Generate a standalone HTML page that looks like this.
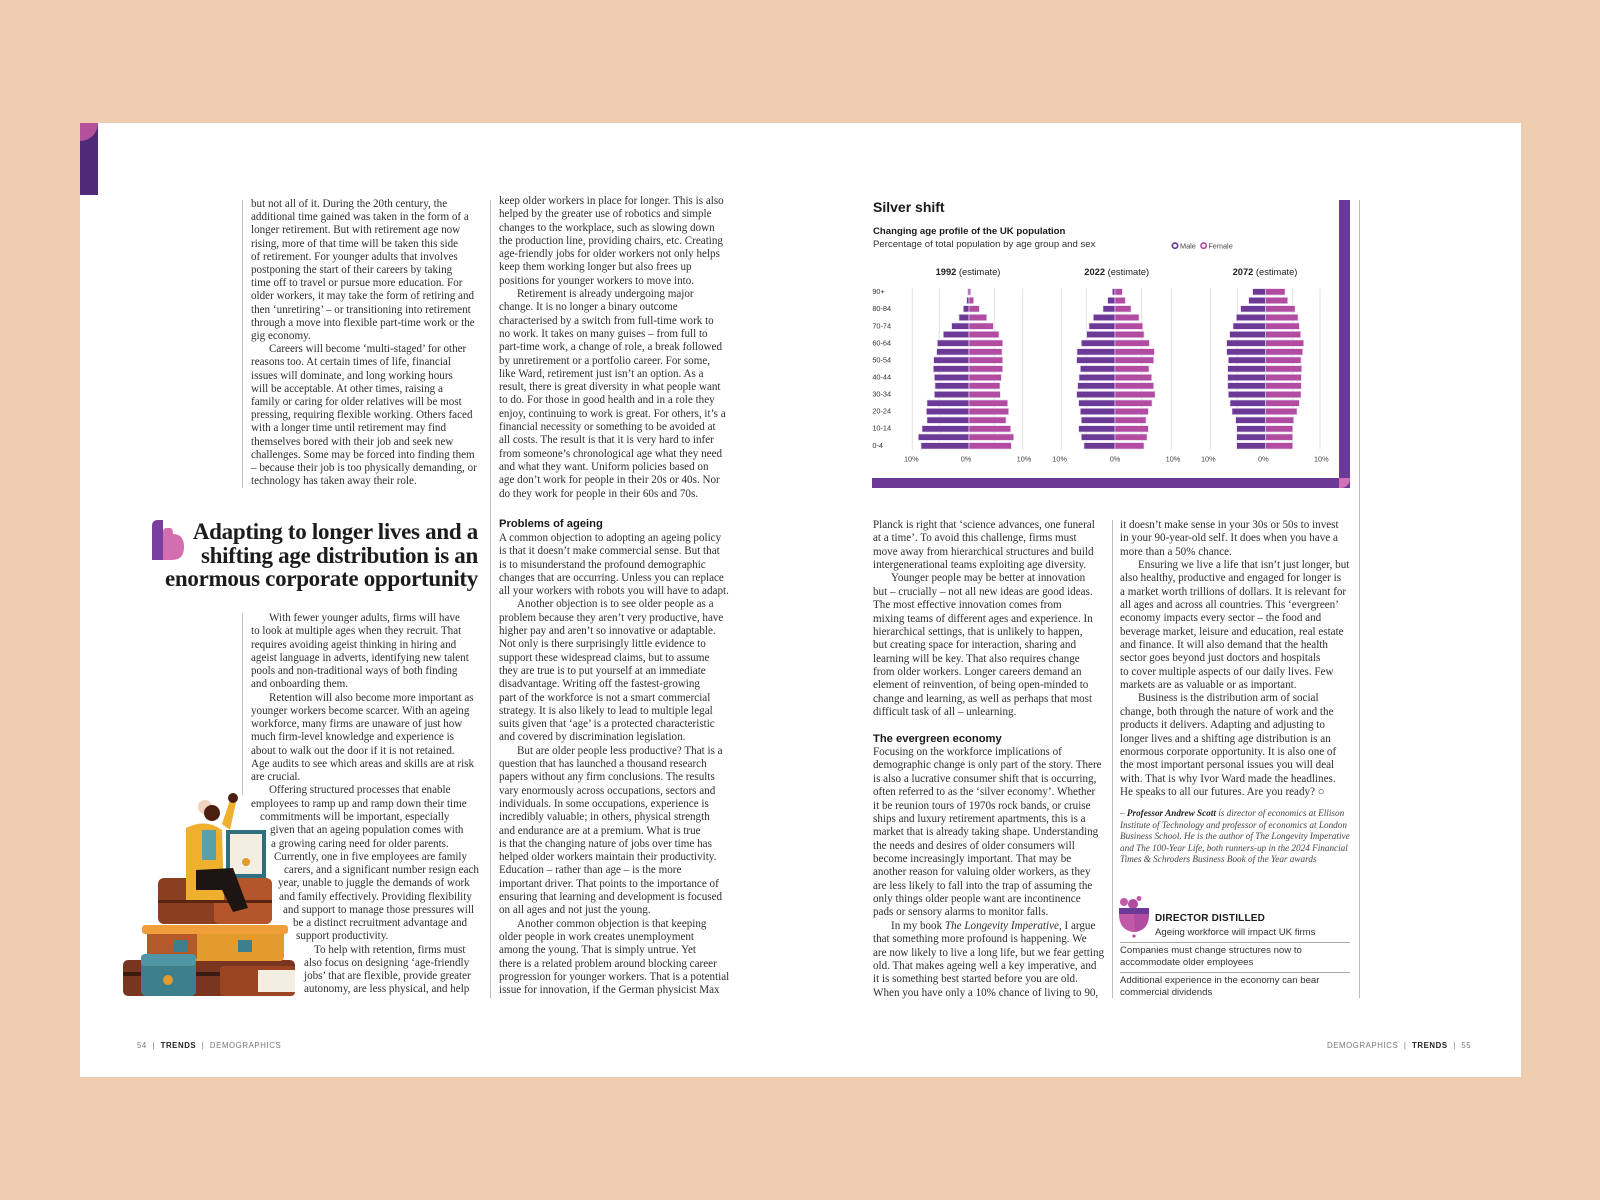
<!DOCTYPE html>
<html><head><meta charset="utf-8">
<style>
*{margin:0;padding:0;box-sizing:border-box}
body{width:1600px;height:1200px;background:#efcdb0;position:relative;overflow:hidden;font-family:"Liberation Serif",serif;color:#333}
.page{position:absolute;left:80px;top:123px;width:1441px;height:954px;background:#fff}
.abs{position:absolute}
.txt{position:absolute;font-family:"Liberation Serif",serif;font-size:11.1px;white-space:nowrap;color:#2e2e2e}
.i{padding-left:18px}
.rule{position:absolute;width:1px;background:#bdbdbd}
.hd{font-family:"Liberation Sans",sans-serif;font-weight:bold;font-size:11.2px;color:#1a1a1a}
.sans{font-family:"Liberation Sans",sans-serif}
.foot{position:absolute;font-family:"Liberation Sans",sans-serif;font-size:7.8px;letter-spacing:0.6px;color:#777;top:1041px}
.foot b{color:#222}
</style></head><body>
<div class="page"></div>
<div class="abs" style="left:80px;top:123px;width:18px;height:72px;background:#4f2a78"></div>
<div class="abs" style="left:80px;top:123px;width:18px;height:18px;background:#b5519b;border-bottom-right-radius:18px"></div>

<div class="rule" style="left:242px;top:200px;height:288px"></div>
<div class="rule" style="left:242px;top:613px;height:182px"></div>
<div class="rule" style="left:490px;top:200px;height:798px"></div>
<div class="rule" style="left:1112px;top:520px;height:478px"></div>
<div class="rule" style="left:1359px;top:200px;height:798px"></div>

<div class="txt" style="left:251px;top:198px;line-height:13.2px">
<div>but not all of it. During the 20th century, the</div>
<div>additional time gained was taken in the form of a</div>
<div>longer retirement. But with retirement age now</div>
<div>rising, more of that time will be taken this side</div>
<div>of retirement. For younger adults that involves</div>
<div>postponing the start of their careers by taking</div>
<div>time off to travel or pursue more education. For</div>
<div>older workers, it may take the form of retiring and</div>
<div>then ‘unretiring’ – or transitioning into retirement</div>
<div>through a move into flexible part-time work or the</div>
<div>gig economy.</div>
<div class="i">Careers will become ‘multi-staged’ for other</div>
<div>reasons too. At certain times of life, financial</div>
<div>issues will dominate, and long working hours</div>
<div>will be acceptable. At other times, raising a</div>
<div>family or caring for older relatives will be most</div>
<div>pressing, requiring flexible working. Others faced</div>
<div>with a longer time until retirement may find</div>
<div>themselves bored with their job and seek new</div>
<div>challenges. Some may be forced into finding them</div>
<div>– because their job is too physically demanding, or</div>
<div>technology has taken away their role.</div>
</div>

<svg class="abs" style="left:150px;top:520px" width="38" height="42" viewBox="0 0 38 42">
<path d="M2 6 Q2 0 8 0 L13 0 L13 40 L2 40 Z" fill="#7a3e9e"/>
<path d="M13 12 Q13 8 17 8 L20 8 Q23 8 23 14 Q34 14 34 27 Q34 40 22 40 L13 40 Z" fill="#d167ad" opacity="0.95"/>
</svg>
<div class="abs" style="left:120px;top:520px;width:358px;text-align:right;font-family:'Liberation Serif',serif;font-weight:bold;font-size:23px;line-height:23.5px;letter-spacing:-0.3px;color:#1c1c1c;white-space:nowrap">
<div>Adapting to longer lives and a</div>
<div>shifting age distribution is an</div>
<div>enormous corporate opportunity</div>
</div>

<div class="txt" style="left:251px;top:612px;line-height:13.27px">
<div class="i">With fewer younger adults, firms will have</div>
<div>to look at multiple ages when they recruit. That</div>
<div>requires avoiding ageist thinking in hiring and</div>
<div>ageist language in adverts, identifying new talent</div>
<div>pools and non-traditional ways of both finding</div>
<div>and onboarding them.</div>
<div class="i">Retention will also become more important as</div>
<div>younger workers become scarcer. With an ageing</div>
<div>workforce, many firms are unaware of just how</div>
<div>much firm-level knowledge and experience is</div>
<div>about to walk out the door if it is not retained.</div>
<div>Age audits to see which areas and skills are at risk</div>
<div>are crucial.</div>
<div style="padding-left:18px">Offering structured processes that enable</div>
<div>employees to ramp up and ramp down their time</div>
<div style="padding-left:9px">commitments will be important, especially</div>
<div style="padding-left:19px">given that an ageing population comes with</div>
<div style="padding-left:20px">a growing caring need for older parents.</div>
<div style="padding-left:23px">Currently, one in five employees are family</div>
<div style="padding-left:33px">carers, and a significant number resign each</div>
<div style="padding-left:27px">year, unable to juggle the demands of work</div>
<div style="padding-left:28px">and family effectively. Providing flexibility</div>
<div style="padding-left:32px">and support to manage those pressures will</div>
<div style="padding-left:42px">be a distinct recruitment advantage and</div>
<div style="padding-left:45px">support productivity.</div>
<div style="padding-left:63px">To help with retention, firms must</div>
<div style="padding-left:53px">also focus on designing ‘age-friendly</div>
<div style="padding-left:53px">jobs’ that are flexible, provide greater</div>
<div style="padding-left:53px">autonomy, are less physical, and help</div>
</div>

<svg class="abs" style="left:118px;top:790px" width="185" height="210" viewBox="0 0 185 210">
<rect x="5" y="170" width="172" height="36" rx="5" fill="#7a3520"/>
<rect x="5" y="182" width="172" height="4" fill="#3b1a10"/>
<rect x="29" y="135" width="137" height="36" rx="4" fill="#e39b2f"/>
<rect x="29" y="135" width="50" height="36" rx="4" fill="#b45a2a"/>
<rect x="24" y="135" width="146" height="9" rx="3" fill="#ef9e3a"/>
<rect x="56" y="150" width="14" height="12" fill="#3e7f8c"/>
<rect x="120" y="150" width="14" height="12" fill="#3e7f8c"/>
<rect x="40" y="88" width="114" height="46" rx="6" fill="#8a3e22"/>
<rect x="96" y="88" width="58" height="46" rx="6" fill="#b5562a"/>
<rect x="40" y="110" width="114" height="3" fill="#5a2412"/>
<rect x="108" y="40" width="40" height="48" fill="#2f6e7c"/>
<rect x="112" y="44" width="32" height="40" fill="#f4ede2"/>
<circle cx="128" cy="72" r="4" fill="#e39b2f"/>
<rect x="23" y="164" width="55" height="42" rx="5" fill="#3e7f8c"/>
<rect x="23" y="164" width="55" height="12" rx="4" fill="#4f97a5"/>
<circle cx="50" cy="190" r="5" fill="#e39b2f"/>
<rect x="102" y="176" width="75" height="30" rx="4" fill="#9a4422"/>
<rect x="140" y="180" width="37" height="22" fill="#f4ede2"/>
<circle cx="87" cy="17" r="7" fill="#f2d2c0"/>
<circle cx="94" cy="23" r="8" fill="#4a1f10"/>
<path d="M68 38 Q88 28 104 40 L106 110 L68 110 Z" fill="#efb02e"/>
<rect x="84" y="40" width="14" height="30" fill="#5aa0a8"/>
<path d="M78 80 L115 78 L130 118 L115 122 L104 100 L78 100 Z" fill="#1d1512"/>
<path d="M104 34 L112 10 L118 12 L112 40 Z" fill="#efb02e"/>
<circle cx="115" cy="8" r="5" fill="#4a1f10"/>
</svg>

<div class="txt" style="left:499px;top:195px;line-height:13.3px">
<div>keep older workers in place for longer. This is also</div>
<div>helped by the greater use of robotics and simple</div>
<div>changes to the workplace, such as slowing down</div>
<div>the production line, providing chairs, etc. Creating</div>
<div>age-friendly jobs for older workers not only helps</div>
<div>keep them working longer but also frees up</div>
<div>positions for younger workers to move into.</div>
<div class="i">Retirement is already undergoing major</div>
<div>change. It is no longer a binary outcome</div>
<div>characterised by a switch from full-time work to</div>
<div>no work. It takes on many guises – from full to</div>
<div>part-time work, a change of role, a break followed</div>
<div>by unretirement or a portfolio career. For some,</div>
<div>like Ward, retirement just isn’t an option. As a</div>
<div>result, there is great diversity in what people want</div>
<div>to do. For those in good health and in a role they</div>
<div>enjoy, continuing to work is great. For others, it’s a</div>
<div>financial necessity or something to be avoided at</div>
<div>all costs. The result is that it is very hard to infer</div>
<div>from someone’s chronological age what they need</div>
<div>and what they want. Uniform policies based on</div>
<div>age don’t work for people in their 20s or 40s. Nor</div>
<div>do they work for people in their 60s and 70s.</div>
</div>

<div class="abs hd" style="left:499px;top:518px">Problems of ageing</div>
<div class="txt" style="left:499px;top:532px;line-height:13.3px">
<div>A common objection to adopting an ageing policy</div>
<div>is that it doesn’t make commercial sense. But that</div>
<div>is to misunderstand the profound demographic</div>
<div>changes that are occurring. Unless you can replace</div>
<div>all your workers with robots you will have to adapt.</div>
<div class="i">Another objection is to see older people as a</div>
<div>problem because they aren’t very productive, have</div>
<div>higher pay and aren’t so innovative or adaptable.</div>
<div>Not only is there surprisingly little evidence to</div>
<div>support these widespread claims, but to assume</div>
<div>they are true is to put yourself at an immediate</div>
<div>disadvantage. Writing off the fastest-growing</div>
<div>part of the workforce is not a smart commercial</div>
<div>strategy. It is also likely to lead to multiple legal</div>
<div>suits given that ‘age’ is a protected characteristic</div>
<div>and covered by discrimination legislation.</div>
<div class="i">But are older people less productive? That is a</div>
<div>question that has launched a thousand research</div>
<div>papers without any firm conclusions. The results</div>
<div>vary enormously across occupations, sectors and</div>
<div>individuals. In some occupations, experience is</div>
<div>incredibly valuable; in others, physical strength</div>
<div>and endurance are at a premium. What is true</div>
<div>is that the changing nature of jobs over time has</div>
<div>helped older workers maintain their productivity.</div>
<div>Education – rather than age – is the more</div>
<div>important driver. That points to the importance of</div>
<div>ensuring that learning and development is focused</div>
<div>on all ages and not just the young.</div>
<div class="i">Another common objection is that keeping</div>
<div>older people in work creates unemployment</div>
<div>among the young. That is simply untrue. Yet</div>
<div>there is a related problem around blocking career</div>
<div>progression for younger workers. That is a potential</div>
<div>issue for innovation, if the German physicist Max</div>
</div>

<div class="abs sans" style="left:873px;top:199px;font-size:14px;font-weight:bold;color:#1a1a1a">Silver shift</div>
<div class="abs sans" style="left:873px;top:226px;font-size:9.6px;font-weight:bold;color:#1a1a1a">Changing age profile of the UK population</div>
<div class="abs sans" style="left:873px;top:239px;font-size:9.6px;color:#333">Percentage of total population by age group and sex</div>
<svg class="abs" style="left:850px;top:190px" width="480" height="300" viewBox="0 0 1440 900" font-family="Liberation Sans, sans-serif">
<circle cx="975" cy="167" r="8" fill="none" stroke="#6b3a96" stroke-width="5"/>
<text x="990" y="175" font-size="22" fill="#444">Male</text>
<circle cx="1061" cy="167" r="8" fill="none" stroke="#b14ca0" stroke-width="5"/>
<text x="1075" y="175" font-size="22" fill="#444">Female</text>
<g font-size="28" text-anchor="middle" fill="#222">
<text x="354" y="255"><tspan font-weight="bold">1992</tspan> (estimate)</text>
<text x="800" y="255"><tspan font-weight="bold">2022</tspan> (estimate)</text>
<text x="1245" y="255"><tspan font-weight="bold">2072</tspan> (estimate)</text>
</g>
<g stroke="#e2e2e2" stroke-width="3">
<line x1="187" y1="295" x2="187" y2="778"/><line x1="268" y1="295" x2="268" y2="778"/><line x1="433" y1="295" x2="433" y2="778"/><line x1="518" y1="295" x2="518" y2="778"/>
<line x1="634" y1="295" x2="634" y2="778"/><line x1="709" y1="295" x2="709" y2="778"/><line x1="875" y1="295" x2="875" y2="778"/><line x1="964" y1="295" x2="964" y2="778"/>
<line x1="1081" y1="295" x2="1081" y2="778"/><line x1="1162" y1="295" x2="1162" y2="778"/><line x1="1328" y1="295" x2="1328" y2="778"/><line x1="1410" y1="295" x2="1410" y2="778"/>
</g>
<g font-size="22" fill="#333">
<text x="67" y="312">90+</text><text x="67" y="363">80-84</text><text x="67" y="415">70-74</text><text x="67" y="466">60-64</text><text x="67" y="517">50-54</text><text x="67" y="568">40-44</text><text x="67" y="620">30-34</text><text x="67" y="671">20-24</text><text x="67" y="722">10-14</text><text x="67" y="774">0-4</text>
</g>
<g font-size="22" fill="#444" text-anchor="middle">
<text x="184" y="815">10%</text><text x="348" y="815">0%</text><text x="522" y="815">10%</text>
<text x="629" y="815">10%</text><text x="795" y="815">0%</text><text x="969" y="815">10%</text>
<text x="1075" y="815">10%</text><text x="1240" y="815">0%</text><text x="1414" y="815">10%</text>
</g>
<g stroke="#e6d3ee" stroke-width="2">
<g fill="#6b3a96">
<rect x="353" y="296" width="4" height="19"/><rect x="350" y="322" width="7" height="19"/><rect x="340" y="347" width="17" height="19"/><rect x="327" y="373" width="30" height="19"/><rect x="305" y="399" width="52" height="19"/><rect x="280" y="424" width="77" height="19"/><rect x="262" y="450" width="95" height="19"/><rect x="260" y="476" width="97" height="19"/><rect x="251" y="501" width="106" height="19"/><rect x="250" y="527" width="107" height="19"/><rect x="253" y="553" width="104" height="19"/><rect x="255" y="578" width="102" height="19"/><rect x="253" y="604" width="104" height="19"/><rect x="231" y="630" width="126" height="19"/><rect x="229" y="655" width="128" height="19"/><rect x="231" y="681" width="126" height="19"/><rect x="216" y="707" width="141" height="19"/><rect x="205" y="732" width="152" height="19"/><rect x="213" y="758" width="144" height="19"/>
<rect x="787" y="296" width="8" height="19"/><rect x="773" y="322" width="22" height="19"/><rect x="759" y="347" width="36" height="19"/><rect x="730" y="373" width="65" height="19"/><rect x="717" y="399" width="78" height="19"/><rect x="710" y="424" width="85" height="19"/><rect x="694" y="450" width="101" height="19"/><rect x="681" y="476" width="114" height="19"/><rect x="680" y="501" width="115" height="19"/><rect x="691" y="527" width="104" height="19"/><rect x="687" y="553" width="108" height="19"/><rect x="683" y="578" width="112" height="19"/><rect x="680" y="604" width="115" height="19"/><rect x="686" y="630" width="109" height="19"/><rect x="691" y="655" width="104" height="19"/><rect x="694" y="681" width="101" height="19"/><rect x="686" y="707" width="109" height="19"/><rect x="694" y="732" width="101" height="19"/><rect x="702" y="758" width="93" height="19"/>
<rect x="1208" y="296" width="39" height="19"/><rect x="1196" y="322" width="51" height="19"/><rect x="1172" y="347" width="75" height="19"/><rect x="1159" y="373" width="88" height="19"/><rect x="1149" y="399" width="98" height="19"/><rect x="1139" y="424" width="108" height="19"/><rect x="1130" y="450" width="117" height="19"/><rect x="1130" y="476" width="117" height="19"/><rect x="1135" y="501" width="112" height="19"/><rect x="1133" y="527" width="114" height="19"/><rect x="1133" y="553" width="114" height="19"/><rect x="1133" y="578" width="114" height="19"/><rect x="1135" y="604" width="112" height="19"/><rect x="1140" y="630" width="107" height="19"/><rect x="1146" y="655" width="101" height="19"/><rect x="1157" y="681" width="90" height="19"/><rect x="1160" y="707" width="87" height="19"/><rect x="1160" y="732" width="87" height="19"/><rect x="1160" y="758" width="87" height="19"/>
</g>
<g fill="#b14ca0">
<rect x="357" y="296" width="5" height="19"/><rect x="357" y="322" width="14" height="19"/><rect x="357" y="347" width="31" height="19"/><rect x="357" y="373" width="53" height="19"/><rect x="357" y="399" width="73" height="19"/><rect x="357" y="424" width="90" height="19"/><rect x="357" y="450" width="101" height="19"/><rect x="357" y="476" width="99" height="19"/><rect x="357" y="501" width="101" height="19"/><rect x="357" y="527" width="101" height="19"/><rect x="357" y="553" width="97" height="19"/><rect x="357" y="578" width="93" height="19"/><rect x="357" y="604" width="94" height="19"/><rect x="357" y="630" width="116" height="19"/><rect x="357" y="655" width="119" height="19"/><rect x="357" y="681" width="111" height="19"/><rect x="357" y="707" width="125" height="19"/><rect x="357" y="732" width="134" height="19"/><rect x="357" y="758" width="127" height="19"/>
<rect x="795" y="296" width="22" height="19"/><rect x="795" y="322" width="31" height="19"/><rect x="795" y="347" width="48" height="19"/><rect x="795" y="373" width="72" height="19"/><rect x="795" y="399" width="83" height="19"/><rect x="795" y="424" width="87" height="19"/><rect x="795" y="450" width="103" height="19"/><rect x="795" y="476" width="118" height="19"/><rect x="795" y="501" width="116" height="19"/><rect x="795" y="527" width="102" height="19"/><rect x="795" y="553" width="110" height="19"/><rect x="795" y="578" width="116" height="19"/><rect x="795" y="604" width="120" height="19"/><rect x="795" y="630" width="111" height="19"/><rect x="795" y="655" width="100" height="19"/><rect x="795" y="681" width="93" height="19"/><rect x="795" y="707" width="100" height="19"/><rect x="795" y="732" width="96" height="19"/><rect x="795" y="758" width="87" height="19"/>
<rect x="1247" y="296" width="58" height="19"/><rect x="1247" y="322" width="66" height="19"/><rect x="1247" y="347" width="88" height="19"/><rect x="1247" y="373" width="97" height="19"/><rect x="1247" y="399" width="101" height="19"/><rect x="1247" y="424" width="105" height="19"/><rect x="1247" y="450" width="114" height="19"/><rect x="1247" y="476" width="111" height="19"/><rect x="1247" y="501" width="106" height="19"/><rect x="1247" y="527" width="108" height="19"/><rect x="1247" y="553" width="107" height="19"/><rect x="1247" y="578" width="107" height="19"/><rect x="1247" y="604" width="106" height="19"/><rect x="1247" y="630" width="101" height="19"/><rect x="1247" y="655" width="94" height="19"/><rect x="1247" y="681" width="84" height="19"/><rect x="1247" y="707" width="81" height="19"/><rect x="1247" y="732" width="81" height="19"/><rect x="1247" y="758" width="81" height="19"/>
</g>
</g>
</svg>
<div class="abs" style="left:1339px;top:200px;width:11px;height:288px;background:#6b3a96"></div>
<div class="abs" style="left:872px;top:478px;width:478px;height:10px;background:#6b3a96"></div>
<div class="abs" style="left:1339px;top:478px;width:11px;height:10px;background:#d272b4;border-bottom-right-radius:9px"></div>

<div class="txt" style="left:873px;top:519px;line-height:13.36px">
<div>Planck is right that ‘science advances, one funeral</div>
<div>at a time’. To avoid this challenge, firms must</div>
<div>move away from hierarchical structures and build</div>
<div>intergenerational teams exploiting age diversity.</div>
<div class="i">Younger people may be better at innovation</div>
<div>but – crucially – not all new ideas are good ideas.</div>
<div>The most effective innovation comes from</div>
<div>mixing teams of different ages and experience. In</div>
<div>hierarchical settings, that is unlikely to happen,</div>
<div>but creating space for interaction, sharing and</div>
<div>learning will be key. That also requires change</div>
<div>from older workers. Longer careers demand an</div>
<div>element of reinvention, of being open-minded to</div>
<div>change and learning, as well as perhaps that most</div>
<div>difficult task of all – unlearning.</div>
<div>&nbsp;</div>
<div class="hd">The evergreen economy</div>
<div>Focusing on the workforce implications of</div>
<div>demographic change is only part of the story. There</div>
<div>is also a lucrative consumer shift that is occurring,</div>
<div>often referred to as the ‘silver economy’. Whether</div>
<div>it be reunion tours of 1970s rock bands, or cruise</div>
<div>ships and luxury retirement apartments, this is a</div>
<div>market that is already taking shape. Understanding</div>
<div>the needs and desires of older consumers will</div>
<div>become increasingly important. That may be</div>
<div>another reason for valuing older workers, as they</div>
<div>are less likely to fall into the trap of assuming the</div>
<div>only things older people want are incontinence</div>
<div>pads or sensory alarms to monitor falls.</div>
<div class="i">In my book <i>The Longevity Imperative</i>, I argue</div>
<div>that something more profound is happening. We</div>
<div>are now likely to live a long life, but we fear getting</div>
<div>old. That makes ageing well a key imperative, and</div>
<div>it is something best started before you are old.</div>
<div>When you have only a 10% chance of living to 90,</div>
</div>

<div class="txt" style="left:1120px;top:519px;line-height:13.35px">
<div>it doesn’t make sense in your 30s or 50s to invest</div>
<div>in your 90-year-old self. It does when you have a</div>
<div>more than a 50% chance.</div>
<div class="i">Ensuring we live a life that isn’t just longer, but</div>
<div>also healthy, productive and engaged for longer is</div>
<div>a market worth trillions of dollars. It is relevant for</div>
<div>all ages and across all countries. This ‘evergreen’</div>
<div>economy impacts every sector – the food and</div>
<div>beverage market, leisure and education, real estate</div>
<div>and finance. It will also demand that the health</div>
<div>sector goes beyond just doctors and hospitals</div>
<div>to cover multiple aspects of our daily lives. Few</div>
<div>markets are as valuable or as important.</div>
<div class="i">Business is the distribution arm of social</div>
<div>change, both through the nature of work and the</div>
<div>products it delivers. Adapting and adjusting to</div>
<div>longer lives and a shifting age distribution is an</div>
<div>enormous corporate opportunity. It is also one of</div>
<div>the most important personal issues you will deal</div>
<div>with. That is why Ivor Ward made the headlines.</div>
<div>He speaks to all our futures. Are you ready? <b style="font-family:'Liberation Sans',sans-serif">○</b></div>
</div>
<div class="txt" style="left:1120px;top:808px;font-size:9.2px;line-height:11.5px;font-style:italic;color:#444">
<div>– <b style="color:#222">Professor Andrew Scott</b> is director of economics at Ellison</div>
<div>Institute of Technology and professor of economics at London</div>
<div>Business School. He is the author of The Longevity Imperative</div>
<div>and The 100-Year Life, both runners-up in the 2024 Financial</div>
<div>Times &amp; Schroders Business Book of the Year awards</div>
</div>

<svg class="abs" style="left:1119px;top:896px" width="32" height="42" viewBox="0 0 32 42">
<circle cx="5" cy="6" r="4" fill="#c35aa7"/><circle cx="14" cy="8" r="5" fill="#b14ca0"/><circle cx="20" cy="2.5" r="2.5" fill="#c35aa7"/>
<rect x="0" y="12" width="30" height="6" fill="#6b3a96"/>
<path d="M0 18 L30 18 Q30 34 16 36 L14 36 Q0 34 0 18 Z" fill="#c35aa7"/>
<path d="M15 18 L30 18 Q30 34 16 36 Z" fill="#b14ca0"/>
<circle cx="15" cy="40" r="1.6" fill="#b14ca0"/>
</svg>
<div class="abs sans" style="left:1155px;top:913px;font-size:10px;font-weight:bold;color:#1a1a1a;letter-spacing:0.2px">DIRECTOR DISTILLED</div>
<div class="abs sans" style="left:1155px;top:927px;font-size:9.6px;color:#333">Ageing workforce will impact UK firms</div>
<div class="abs" style="left:1120px;top:942px;width:230px;height:1px;background:#aaa"></div>
<div class="abs sans" style="left:1120px;top:945px;font-size:9.6px;color:#333;line-height:12px">Companies must change structures now to<br>accommodate older employees</div>
<div class="abs" style="left:1120px;top:972px;width:230px;height:1px;background:#aaa"></div>
<div class="abs sans" style="left:1120px;top:975px;font-size:9.6px;color:#333;line-height:12px">Additional experience in the economy can bear<br>commercial dividends</div>

<div class="foot" style="left:137px">54 &nbsp;|&nbsp; <b>TRENDS</b> &nbsp;|&nbsp; DEMOGRAPHICS</div>
<div class="foot" style="left:1327px">DEMOGRAPHICS &nbsp;|&nbsp; <b>TRENDS</b> &nbsp;|&nbsp; 55</div>
</body></html>
